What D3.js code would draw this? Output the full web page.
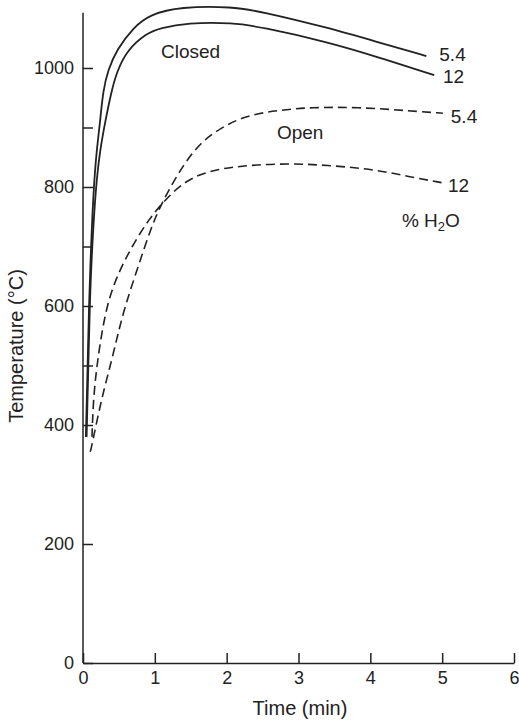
<!DOCTYPE html>
<html>
<head>
<meta charset="utf-8">
<script src="https://cdn.jsdelivr.net/npm/d3@7"></script>
<style>
  html, body { margin: 0; padding: 0; background: #fff; }
  svg { display: block; font-family: "Liberation Sans", Arial, Helvetica, sans-serif; }
</style>
</head>
<body>
<svg id="chart" width="519" height="722"></svg>
<script>
// ---- data (time in min, temperature in °C) ----
const closed54 = [[0.04,380],[0.06,476],[0.085,610],[0.11,694],[0.146,795],[0.19,862],[0.237,908],[0.28,963],[0.35,997],[0.47,1031],[0.70,1068],[0.93,1090],[1.35,1103],[2.09,1103],[2.47,1095],[3.40,1068],[4.09,1044],[4.78,1020]];
const closed12 = [[0.05,380],[0.07,476],[0.095,610],[0.125,694],[0.174,795],[0.237,862],[0.306,908],[0.40,963],[0.47,993],[0.61,1030],[0.89,1059],[1.07,1067],[1.45,1076],[2.09,1076],[2.47,1069],[3.40,1044],[4.09,1019],[4.89,988]];
const open54 = [[0.10,355],[0.11,358],[0.195,408],[0.29,459],[0.40,509],[0.49,555],[0.585,599],[0.72,649],[0.86,700],[1.0,748],[1.17,790],[1.39,836],[1.63,874],[1.91,899],[2.28,921],[2.74,929],[3.16,934],[3.86,934],[4.55,928],[5.01,924]];
const open12 = [[0.125,380],[0.143,442],[0.19,497],[0.26,555],[0.352,610],[0.49,655],[0.68,700],[0.91,745],[1.14,778],[1.39,807],[1.67,824],[2.05,834],[2.74,840],[3.40,837],[4.09,829],[4.55,817],[5.01,807]];

const xTicks = [0,1,2,3,4,5,6];
const yTicks = [0,200,400,600,800,1000];
const yMinorTicks = [500,700,900];

const labels = [
  {text:"Closed", t:1.086, T:1017},
  {text:"Open",   t:2.70,  T:881},
  {text:"5.4",    t:4.96,  T:1012},
  {text:"12",     t:5.01,  T:975},
  {text:"5.4",    t:5.12,  T:908},
  {text:"12",     t:5.08,  T:791}
];

// ---- scales ----
const x = d3.scaleLinear().domain([0,6]).range([83,514]);
const y = d3.scaleLinear().domain([0,1000]).range([663,68]);
const yTop = 1093;

const svg = d3.select("#chart");
const ink = "#222";

// axes
const gx = svg.append("g").attr("transform", `translate(0,${y(0)})`)
  .call(d3.axisBottom(x).tickValues(xTicks).tickSizeInner(-10).tickSizeOuter(0).tickPadding(8).tickFormat(d3.format("d")));
const gy = svg.append("g").attr("transform", `translate(${x(0)},0)`)
  .call(d3.axisLeft(y).tickValues(yTicks).tickSizeInner(-10).tickSizeOuter(0).tickPadding(9).tickFormat(d3.format("d")));
const gym = svg.append("g").attr("transform", `translate(${x(0)},0)`)
  .call(d3.axisLeft(y).tickValues(yMinorTicks).tickSizeInner(-10).tickSizeOuter(0).tickFormat(""));
gym.select(".domain").remove();
gy.select(".domain").attr("d", `M0,${y(0)}V${y(yTop)}`);

[gx, gy, gym].forEach(g => {
  g.selectAll(".domain").attr("stroke", ink).attr("stroke-width", 1.5);
  g.selectAll(".tick line").attr("stroke", ink).attr("stroke-width", 1.5);
  g.selectAll(".tick text").attr("fill", ink).attr("font-size", 18).attr("font-family", null);
});

// lines
const line = d3.line().x(d => x(d[0])).y(d => y(d[1])).curve(d3.curveBasis);
svg.append("path").datum(closed54).attr("d", line).attr("fill","none").attr("stroke",ink).attr("stroke-width",1.8);
svg.append("path").datum(closed12).attr("d", line).attr("fill","none").attr("stroke",ink).attr("stroke-width",1.8);
svg.append("path").datum(open54).attr("d", line).attr("fill","none").attr("stroke",ink).attr("stroke-width",1.6).attr("stroke-dasharray","9,5");
svg.append("path").datum(open12).attr("d", line).attr("fill","none").attr("stroke",ink).attr("stroke-width",1.6).attr("stroke-dasharray","9,5");

// annotations
svg.selectAll("text.lab").data(labels).enter().append("text")
  .attr("class","lab")
  .attr("x", d => x(d.t)).attr("y", d => y(d.T))
  .attr("font-size", 19).attr("fill", ink)
  .text(d => d.text);

const h2o = svg.append("text").attr("x", x(4.44)).attr("y", y(733)).attr("font-size", 19).attr("fill", ink);
h2o.append("tspan").text("% H");
h2o.append("tspan").attr("font-size", 13).attr("dy", 4).text("2");
h2o.append("tspan").attr("dy", -4).text("O");

// axis titles
svg.append("text").attr("x", 300).attr("y", 715).attr("text-anchor","middle")
  .attr("font-size", 20).attr("fill", ink).text("Time (min)");
svg.append("text").attr("transform", "translate(23,346) rotate(-90)").attr("text-anchor","middle")
  .attr("font-size", 20).attr("fill", ink).text("Temperature (°C)");
</script>
</body>
</html>
